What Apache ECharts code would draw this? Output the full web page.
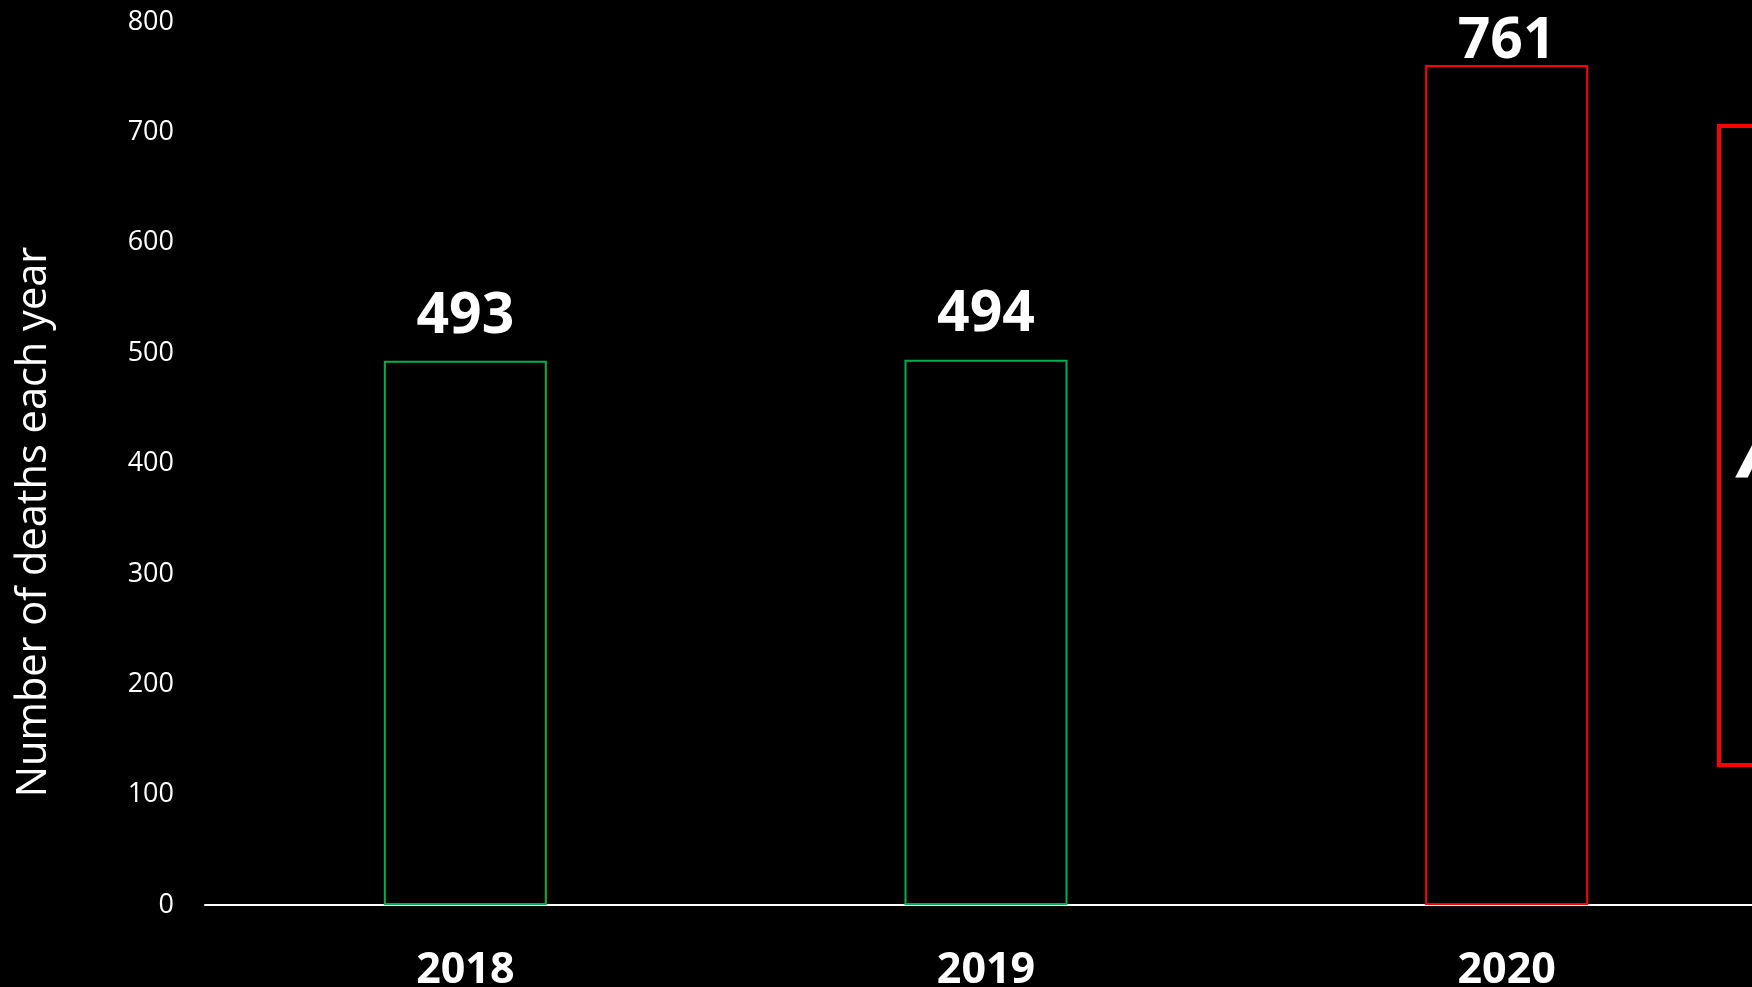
<!DOCTYPE html>
<html>
<head>
<meta charset="utf-8">
<title>Number of deaths each year</title>
<script src="https://cdn.jsdelivr.net/npm/echarts@6/dist/echarts.min.js"></script>
<style>
  html, body { margin: 0; padding: 0; background: #000; }
  #chart { width: 1752px; height: 987px; }
</style>
</head>
<body>
<div id="chart"></div>
<script>
// Yearly totals
const years = ['2018', '2019', '2020'];
const deaths = [493, 494, 761];
const barColors = ['#00B050', '#00B050', '#FF0000'];

// Value axis range and step
const yMin = 0;
const yMax = 800;
const yStep = 100;

const axisTitle = 'Number of deaths each year';
const calloutText = 'An increase of 54%';

const FONT = '"Open Sans", "Noto Sans", sans-serif';

// Labels sit above each bar; the tallest one is pulled in so it stays on the page
const labelDistance = (v) => (v > 700 ? -5 : 16);

const chart = echarts.init(document.getElementById('chart'));

chart.setOption({
  backgroundColor: '#000000',
  animation: false,
  grid: {
    left: 205, top: 22, right: -15, bottom: 82,
    containLabel: false,
    outerBoundsMode: 'none'
  },
  xAxis: {
    type: 'category',
    data: years,
    boundaryGap: true,
    axisLine: { show: true, lineStyle: { color: '#ffffff', width: 2 } },
    axisTick: { show: false },
    axisLabel: {
      color: '#ffffff',
      fontFamily: FONT,
      fontWeight: 'bold',
      fontSize: 43,
      margin: 44
    },
    splitLine: { show: false }
  },
  yAxis: {
    type: 'value',
    min: yMin,
    max: yMax,
    interval: yStep,
    axisLine: { show: false },
    axisTick: { show: false },
    splitLine: { show: false },
    axisLabel: {
      color: '#ffffff',
      fontFamily: FONT,
      fontSize: 27,
      margin: 31
    }
  },
  series: [{
    type: 'bar',
    barWidth: 163,
    data: deaths.map((v, i) => ({
      value: v,
      itemStyle: { color: 'rgba(0,0,0,0)', borderColor: barColors[i], borderWidth: 2 },
      label: { distance: labelDistance(v) }
    })),
    label: {
      show: true,
      position: 'top',
      color: '#ffffff',
      fontFamily: FONT,
      fontWeight: 'bold',
      fontSize: 57
    }
  }],
  graphic: [
    {
      type: 'text',
      x: 34,
      y: 522,
      rotation: Math.PI / 2,
      style: {
        text: axisTitle,
        fill: '#ffffff',
        font: '41.5px ' + FONT,
        textAlign: 'center',
        textVerticalAlign: 'middle'
      }
    },
    {
      type: 'rect',
      shape: { x: 1719, y: 126, width: 400, height: 639 },
      style: { fill: 'none', stroke: '#FF0000', lineWidth: 4 }
    },
    {
      type: 'text',
      x: 1740,
      y: 455,
      style: {
        text: calloutText,
        fill: '#ffffff',
        font: 'italic bold 80px ' + FONT,
        textAlign: 'left',
        textVerticalAlign: 'middle'
      }
    }
  ]
});
</script>
</body>
</html>
